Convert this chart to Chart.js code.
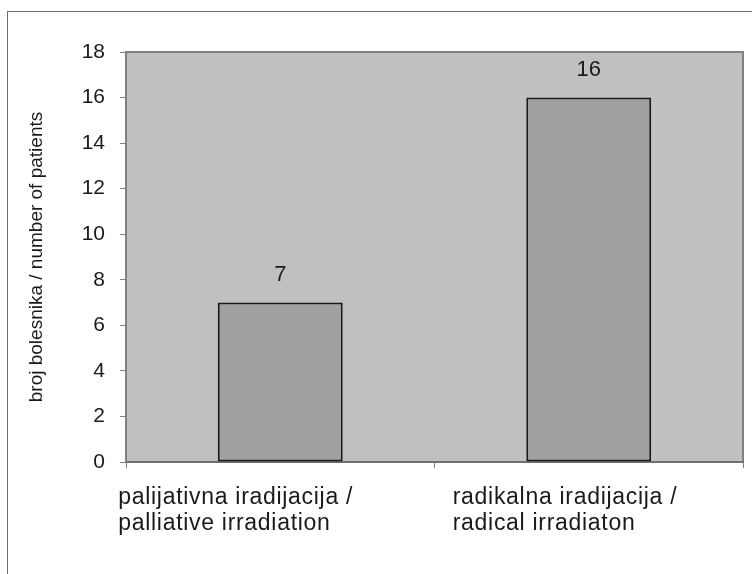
<!DOCTYPE html>
<html>
<head>
<meta charset="utf-8">
<script src="https://cdn.jsdelivr.net/npm/chart.js@4/dist/chart.umd.min.js"></script>
<style>
  html, body { margin: 0; padding: 0; background: #fff; overflow: hidden; }
  #wrap { position: relative; width: 752px; height: 574px; }
  #frame { position: absolute; left: 7px; top: 11px; width: 800px; height: 700px; border: 1px solid #707070; }
  #chart { position: absolute; left: 0; top: 0; }
</style>
</head>
<body>
<div id="wrap">
  <div id="frame"></div>
  <canvas id="chart" width="752" height="574"></canvas>
</div>
<script>
// Data
const categories = [
    ['palijativna iradijacija /', 'palliative irradiation'],
    ['radikalna iradijacija /', 'radical irradiaton']
];
const patientCounts = [7, 16];
const yTicks = [0, 2, 4, 6, 8, 10, 12, 14, 16, 18];
const yTitle = 'broj bolesnika / number of patients';

const FONT = "'Liberation Sans', Arial, sans-serif";

// Grey plot area with a frame, like the old spreadsheet chart
const plotBackground = {
    id: 'plotBackground',
    beforeDraw(chart) {
        const { ctx, chartArea: a } = chart;
        ctx.save();
        ctx.fillStyle = '#c0c0c0';
        ctx.fillRect(a.left, a.top, a.right - a.left, a.bottom - a.top);
        ctx.strokeStyle = '#808080';
        ctx.lineWidth = 2;
        ctx.strokeRect(a.left, a.top, a.right - a.left, a.bottom - a.top);
        ctx.restore();
    }
};

// Value printed above each bar
const barValues = {
    id: 'barValues',
    afterDatasetsDraw(chart) {
        const { ctx } = chart;
        const meta = chart.getDatasetMeta(0);
        ctx.save();
        ctx.font = '22px ' + FONT;
        ctx.fillStyle = '#1a1a1a';
        ctx.textAlign = 'center';
        ctx.textBaseline = 'alphabetic';
        meta.data.forEach((bar, i) => {
            ctx.fillText(String(patientCounts[i]), bar.x, bar.y - 22);
        });
        ctx.restore();
    }
};

// Category labels are left aligned two-line blocks, shifted left of the category centre
const labelShift = [-162, -136];
const categoryLabels = {
    id: 'categoryLabels',
    afterDraw(chart) {
        const { ctx } = chart;
        const x = chart.scales.x;
        ctx.save();
        ctx.font = '23px ' + FONT;
        ctx.letterSpacing = '0.7px';
        ctx.fillStyle = '#1a1a1a';
        ctx.textAlign = 'left';
        ctx.textBaseline = 'alphabetic';
        categories.forEach((lines, i) => {
            const left = x.getPixelForValue(i) + labelShift[i];
            lines.forEach((line, j) => {
                ctx.fillText(line, left, x.top + 42 + j * 26);
            });
        });
        ctx.restore();
    }
};

new Chart(document.getElementById('chart').getContext('2d'), {
    type: 'bar',
    data: {
        labels: categories,
        datasets: [{
            data: patientCounts,
            backgroundColor: '#a0a0a0',
            borderColor: '#1a1a1a',
            borderWidth: 2,
            borderSkipped: false,
            barPercentage: 0.405,
            categoryPercentage: 1
        }]
    },
    options: {
        responsive: false,
        animation: false,
        layout: { padding: { top: 52, right: 9, left: 0, bottom: 0 } },
        plugins: {
            legend: { display: false },
            tooltip: { enabled: false }
        },
        scales: {
            x: {
                grid: {
                    offset: true,
                    drawOnChartArea: false,
                    drawTicks: true,
                    tickLength: 6,
                    color: '#808080'
                },
                border: { color: '#707070', width: 2 },
                ticks: { display: false },
                afterFit(scale) { scale.height = 112; }
            },
            y: {
                min: 0,
                max: 18,
                afterBuildTicks(scale) {
                    scale.ticks = yTicks.map(v => ({ value: v }));
                },
                grid: {
                    drawOnChartArea: false,
                    drawTicks: true,
                    tickLength: 6,
                    color: '#808080'
                },
                border: { color: '#808080', width: 2 },
                ticks: {
                    padding: 15,
                    color: '#1a1a1a',
                    font: { family: FONT, size: 21 }
                },
                title: {
                    display: true,
                    text: yTitle,
                    color: '#1a1a1a',
                    padding: { top: 25, bottom: 0 },
                    font: { family: FONT, size: 19 }
                },
                afterFit(scale) { scale.width = 126; }
            }
        }
    },
    plugins: [plotBackground, barValues, categoryLabels]
});
</script>
</body>
</html>
